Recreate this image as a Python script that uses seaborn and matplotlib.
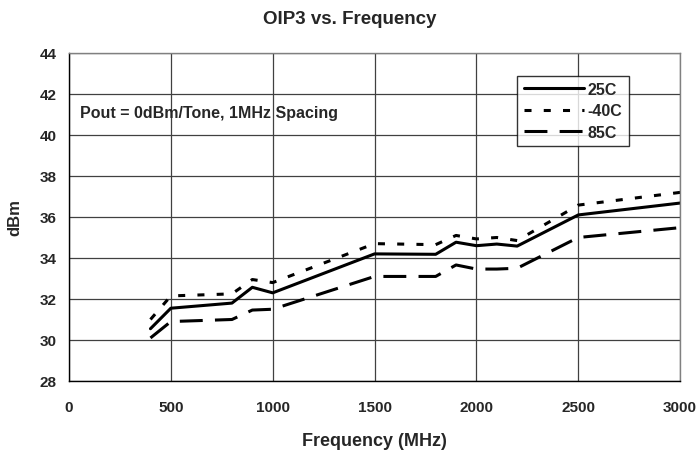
import matplotlib
matplotlib.use('Agg')
import matplotlib.pyplot as plt
import seaborn as sns
import pandas as pd

freq = [400, 500, 800, 900, 1000, 1500, 1800, 1900, 2000, 2100, 2200, 2500, 3000]
oip3_25c = [30.55, 31.55, 31.8, 32.57, 32.3, 34.2, 34.18, 34.77, 34.6, 34.68, 34.58, 36.1, 36.68]
oip3_m40c = [31.0, 32.15, 32.25, 32.95, 32.8, 34.7, 34.65, 35.1, 34.93, 35.0, 34.85, 36.58, 37.2]
oip3_85c = [30.1, 30.9, 31.0, 31.46, 31.5, 33.1, 33.1, 33.66, 33.46, 33.46, 33.5, 35.0, 35.48]

series = {'25C': oip3_25c, '-40C': oip3_m40c, '85C': oip3_85c}
df = pd.concat([pd.DataFrame({'freq': freq, 'dBm': v, 'temp': k}) for k, v in series.items()])

sns.set_theme(style="white")
plt.rcParams['font.family'] = ['Liberation Sans', 'DejaVu Sans']
plt.rcParams['font.weight'] = 'bold'

fig = plt.figure(figsize=(6.99, 4.56), dpi=100)
ax = fig.add_axes([0.0987, 0.1623, 0.8743, 0.7193])

# dash lengths in units of line width
dashes = {'25C': '', '-40C': (2.3, 4.0), '85C': (7.5, 4.0)}
sns.lineplot(data=df, x='freq', y='dBm', hue='temp', style='temp',
             palette={k: 'black' for k in series}, dashes=dashes,
             linewidth=2.2, ax=ax, legend=True)

ax.set_xlim(0, 3000)
ax.set_ylim(28, 44)
ax.set_xticks(range(0, 3001, 500))
ax.set_yticks(range(28, 45, 2))
ax.grid(True, color='#404040', linewidth=0.9)
for s in ax.spines.values():
    s.set_color('#808080')
    s.set_linewidth(1)
ax.spines['left'].set_color('black')
ax.spines['bottom'].set_color('black')
ax.tick_params(axis='y', direction='out', length=4, width=1, color='black',
               labelsize=11, pad=5)
ax.tick_params(axis='x', direction='inout', length=6, width=1, color='black',
               labelsize=11, pad=11)
for lab in ax.get_xticklabels() + ax.get_yticklabels():
    lab.set_fontweight('bold')

ax.set_xlabel('Frequency (MHz)', fontsize=13, fontweight='bold', labelpad=13)
ax.set_ylabel('dBm', fontsize=12, fontweight='bold', labelpad=12)
fig.suptitle('OIP3 vs. Frequency', x=0.5, y=0.975, fontsize=13.5, fontweight='bold')

ax.text(54, 41.12, 'Pout = 0dBm/Tone, 1MHz Spacing', fontsize=11.5, fontweight='bold',
        va='center', ha='left')

leg = ax.legend(loc='upper right', bbox_to_anchor=(0.916, 0.931), frameon=True,
                fancybox=False, edgecolor='black', fontsize=11.5, handlelength=3.8,
                borderpad=0.4, labelspacing=0.4, handletextpad=0.2,
                borderaxespad=0)
leg.get_frame().set_linewidth(1)
for t in leg.get_texts():
    t.set_fontweight('bold')

fig.savefig('out.png', dpi=100, facecolor='white')
